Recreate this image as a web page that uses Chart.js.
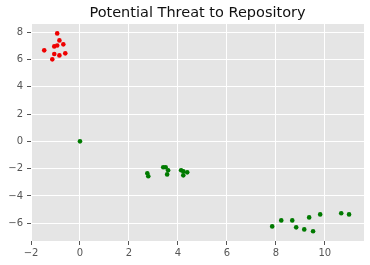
<!DOCTYPE html>
<html>
<head>
<meta charset="utf-8">
<script src="https://cdn.jsdelivr.net/npm/chart.js@4"></script>
<style>
  html, body { margin: 0; padding: 0; background: #fff; }
  #wrap { width: 370px; height: 265px; }
</style>
</head>
<body>
<div id="wrap"><canvas id="threatChart" width="370" height="265"></canvas></div>
<script>
// red group (threat)
const redX = [-1.46, -0.93, -0.84, -1.05, -0.93, -0.68, -1.13, -1.05, -0.84, -0.60];
const redY = [6.67, 7.91, 7.40, 6.96, 7.03, 7.11, 6.01, 6.40, 6.30, 6.45];
// green group (repository)
const greenX = [0, 2.75, 2.79, 3.40, 3.50, 3.60, 3.56, 4.13, 4.22, 4.22, 4.38,
                7.85, 8.22, 8.67, 8.83, 9.16, 9.36, 9.52, 9.81, 10.67, 10.99];
const greenY = [0, -2.34, -2.56, -1.90, -1.90, -2.12, -2.42, -2.12, -2.20, -2.49, -2.27,
                -6.23, -5.79, -5.79, -6.30, -6.45, -5.57, -6.59, -5.35, -5.27, -5.35];
const xTicks = [-2, 0, 2, 4, 6, 8, 10];
const yTicks = [-6, -4, -2, 0, 2, 4, 6, 8];
const chartTitle = 'Potential Threat to Repository';

const toPoints = (xs, ys) => xs.map((x, i) => ({ x: x, y: ys[i] }));
const fmt = v => (v < 0 ? '\u2212' + Math.abs(v) : String(v));

// grey plot background + title centred on plot area
const ggBackground = {
    id: 'ggBackground',
    beforeDraw(chart) {
        const { ctx, chartArea } = chart;
        ctx.save();
        ctx.fillStyle = '#e5e5e5';
        ctx.fillRect(chartArea.left, chartArea.top, chartArea.right - chartArea.left, chartArea.bottom - chartArea.top);
        ctx.restore();
    },
    afterDraw(chart) {
        const { ctx, chartArea } = chart;
        ctx.save();
        ctx.fillStyle = '#111';
        ctx.font = '14.5px "DejaVu Sans"';
        ctx.textAlign = 'center';
        ctx.textBaseline = 'middle';
        ctx.fillText(chartTitle, (chartArea.left + chartArea.right) / 2, 13);
        ctx.restore();
    }
};

new Chart(document.getElementById('threatChart'), {
    type: 'scatter',
    data: {
        datasets: [{
            label: 'threat',
            data: toPoints(redX, redY),
            backgroundColor: '#ee0000',
            borderWidth: 0,
            pointRadius: 2.3
        }, {
            label: 'repository',
            data: toPoints(greenX, greenY),
            backgroundColor: '#007a00',
            borderWidth: 0,
            pointRadius: 2.3
        }]
    },
    options: {
        responsive: false,
        animation: false,
        layout: { padding: { top: 24, right: 6, left: 0, bottom: 0 } },
        plugins: {
            legend: { display: false },
            tooltip: { enabled: false },
            title: { display: false }
        },
        scales: {
            x: {
                type: 'linear',
                min: -2,
                max: 11.6,
                afterBuildTicks: scale => { scale.ticks = xTicks.map(v => ({ value: v })); },
                afterFit: scale => { scale.height = 24; },
                border: { display: false },
                grid: { color: '#ffffff', lineWidth: 1, tickColor: '#555', tickLength: 4 },
                ticks: {
                    color: '#555',
                    font: { family: 'DejaVu Sans', size: 10 },
                    padding: 2,
                    maxRotation: 0,
                    callback: v => fmt(v)
                }
            },
            y: {
                type: 'linear',
                min: -7.3,
                max: 8.6,
                afterBuildTicks: scale => { scale.ticks = yTicks.map(v => ({ value: v })); },
                afterFit: scale => { scale.width = 31; },
                border: { display: false },
                grid: { color: '#ffffff', lineWidth: 1, tickColor: '#555', tickLength: 4 },
                ticks: {
                    color: '#555',
                    font: { family: 'DejaVu Sans', size: 10 },
                    padding: 4,
                    callback: v => fmt(v)
                }
            }
        }
    },
    plugins: [ggBackground]
});
</script>
</body>
</html>
